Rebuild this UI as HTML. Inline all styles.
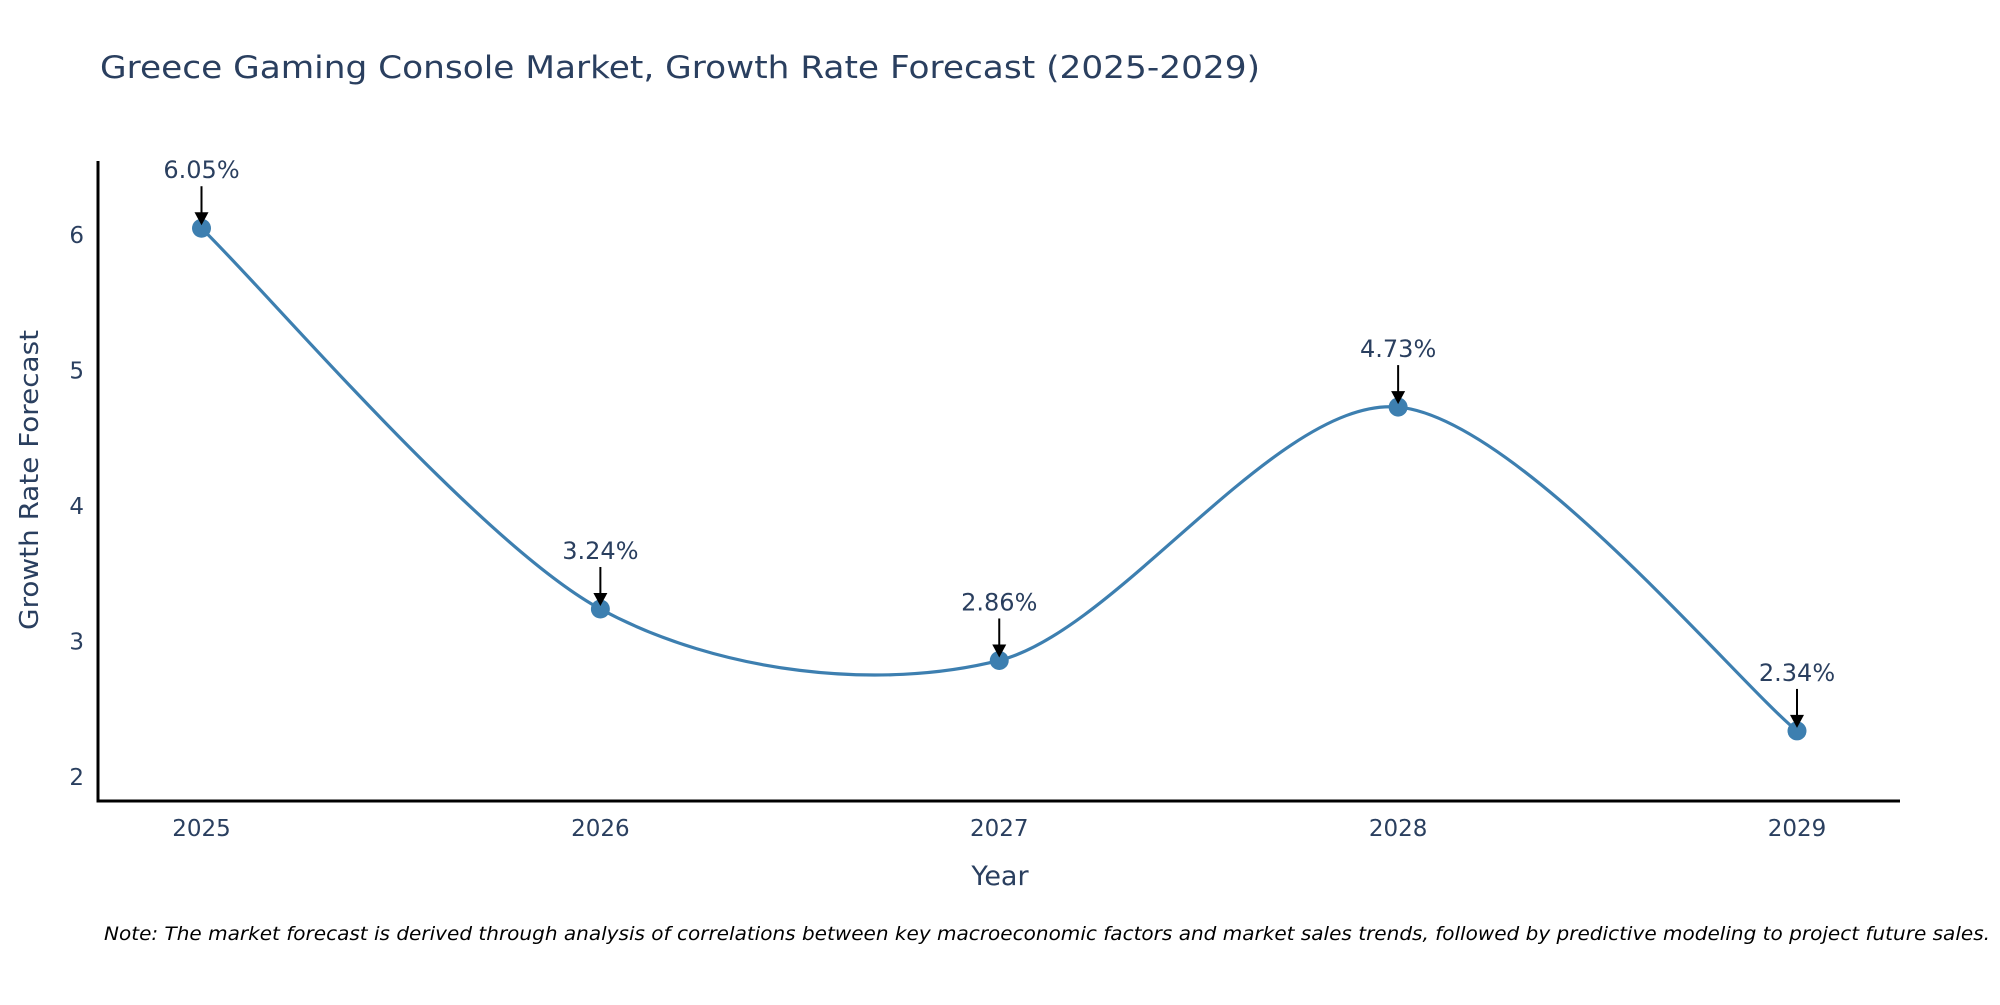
<!DOCTYPE html>
<html><head><meta charset="utf-8"><style>
body{margin:0;background:#fff;}
svg text{font-family:"DejaVu Sans","Liberation Sans",sans-serif;fill:#2a3f5f;}
</style></head><body>
<svg id="chart" width="2000" height="1000" viewBox="0 0 2000 1000" xmlns="http://www.w3.org/2000/svg">
<rect width="2000" height="1000" fill="#fff"/>
<text x="100" y="78" font-size="31" textLength="1160" lengthAdjust="spacingAndGlyphs">Greece Gaming Console Market, Growth Rate Forecast (2025-2029)</text>
<g id="plot"></g>
<text x="0" y="0" transform="translate(38,480) rotate(-90)" text-anchor="middle" font-size="26" textLength="300" lengthAdjust="spacingAndGlyphs">Growth Rate Forecast</text>
<text x="1000" y="885" text-anchor="middle" font-size="27">Year</text>
<text x="104" y="940" font-size="19" font-style="italic" textLength="1886" lengthAdjust="spacingAndGlyphs" style="fill:#000">Note: The market forecast is derived through analysis of correlations between key macroeconomic factors and market sales trends, followed by predictive modeling to project future sales.</text>
</svg>
<script>
const years = ["2025","2026","2027","2028","2029"];
const growth = [6.05, 3.24, 2.86, 4.73, 2.34];
const labels = ["6.05%","3.24%","2.86%","4.73%","2.34%"];
const yTicks = [2,3,4,5,6];

const NS="http://www.w3.org/2000/svg";
const g=document.getElementById('plot');
const L=98,R=1900,T=161,B=801;
function xs(i){return 201.5+i*(1797-201.5)/(years.length-1);}
function ys(v){return 777-(v-2)*(777-235)/4;}
function mk(tag,attrs){const e=document.createElementNS(NS,tag);for(const k in attrs)e.setAttribute(k,attrs[k]);g.appendChild(e);return e;}

let a=mk('line',{x1:L,y1:T,x2:L,y2:B+1.5,stroke:'#000','stroke-width':3});


a=mk('line',{x1:L-1.5,y1:B,x2:R,y2:B,stroke:'#000','stroke-width':3});



yTicks.forEach(t=>{
  const e=mk('text',{x:L-14,y:ys(t)+8,'text-anchor':'end','font-size':23});
  e.textContent=t;
  
  
});
years.forEach((y,i)=>{
  const e=mk('text',{x:xs(i),y:836,'text-anchor':'middle','font-size':23});
  e.textContent=y;
  
  
});

const pts=growth.map((v,i)=>[xs(i),ys(v)]);
let d='M'+pts[0][0]+','+pts[0][1];
for(let i=0;i<pts.length-1;i++){
  const p0=pts[Math.max(i-1,0)],p1=pts[i],p2=pts[i+1],p3=pts[Math.min(i+2,pts.length-1)];
  const k=0.15;
  const c1=[p1[0]+(p2[0]-p0[0])*k,p1[1]+(p2[1]-p0[1])*k];
  const c2=[p2[0]-(p3[0]-p1[0])*k,p2[1]-(p3[1]-p1[1])*k];
  d+=' C'+c1+' '+c2+' '+p2;
}
const line=mk('path',{d:d,fill:'none',stroke:'#3d7fb0','stroke-width':3.2});



pts.forEach((p,i)=>{
  const c=mk('circle',{cx:p[0],cy:p[1],r:9.5,fill:'#3d7fb0'});
  
  
  const ar=mk('line',{x1:p[0],y1:p[1]-42,x2:p[0],y2:p[1]-13,stroke:'#000','stroke-width':2});
  const hd=mk('path',{d:`M${p[0]-7},${p[1]-16} L${p[0]+7},${p[1]-16} L${p[0]},${p[1]-3} z`,fill:'#000'});
  
  
  
  
  const t=mk('text',{x:p[0],y:p[1]-50,'text-anchor':'middle','font-size':24});
  t.textContent=labels[i];
  
  
});
</script>
</body></html>
